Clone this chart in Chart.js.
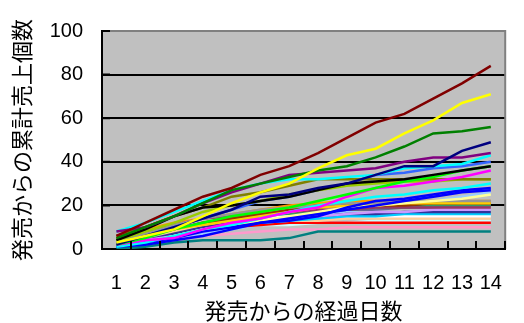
<!DOCTYPE html>
<html>
<head>
<meta charset="utf-8">
<script src="https://cdn.jsdelivr.net/npm/chart.js@4/dist/chart.umd.min.js"></script>
<style>
  html, body { margin: 0; padding: 0; background: #ffffff; }
  #box { width: 524px; height: 323px; }
</style>
</head>
<body>
<div id="box"><canvas id="chart" width="524" height="323"></canvas></div>
<script>
// Days since release
const days = ['1','2','3','4','5','6','7','8','9','10','11','12','13','14'];
const yTicks = [0, 20, 40, 60, 80, 100];

// Cumulative units sold per product, day 1..14
const p01 = [6, 12, 18, 24, 28, 34, 38, 44, 51, 58, 62, 69, 76, 84];
const p02 = [3, 6, 9, 15, 21, 26, 30, 37, 43, 46, 53, 59, 67, 71];
const p03 = [5, 10, 15, 21, 27, 30, 33, 36, 38, 42, 47, 53, 54, 56];
const p04 = [2, 6, 10, 14, 18, 24, 25, 28, 30, 34, 38, 38, 45, 49];
const p05 = [8, 10, 15, 21, 26, 30, 34, 35, 36, 37, 40, 42, 42, 44];
const p06 = [8, 12, 17, 22, 27, 30, 32, 32, 33, 34, 37, 38, 39, 43];
const p07 = [4, 9, 15, 19, 20, 22, 24, 27, 30, 31, 32, 34, 36, 38];
const p08 = [2, 5, 9, 12, 15, 17, 19, 22, 25, 28, 31, 33, 36, 38];
const p09 = [2, 4, 5, 9, 12, 14, 17, 19, 24, 28, 29, 31, 33, 36];
const p10 = [6, 10, 15, 19, 24, 26, 29, 32, 32, 32, 32, 32, 32, 32];
const p11 = [4, 8, 12, 17, 20, 22, 25, 27, 29, 30, 31, 31, 32, 32];
const p12 = [1, 3, 6, 9, 11, 14, 17, 20, 22, 24, 25, 27, 28, 30];
const p13 = [1, 2, 4, 6, 9, 12, 13, 15, 19, 22, 23, 25, 27, 28];
const p14 = [3, 6, 10, 14, 18, 22, 24, 27, 30, 34, 35, 37, 38, 40];
const p15 = [1, 3, 5, 8, 10, 12, 14, 16, 18, 20, 22, 24, 26, 27];
const p16 = [1, 3, 6, 9, 11, 13, 15, 17, 19, 20, 21, 22, 23, 25];
const p17 = [4, 7, 11, 14, 16, 18, 19, 20, 21, 21, 22, 22, 22, 22];
const p18 = [3, 6, 9, 11, 13, 15, 17, 19, 20, 20, 21, 21, 21, 21];
const p19 = [3, 6, 9, 12, 14, 16, 18, 19, 20, 20, 20, 21, 21, 21];
const p20 = [0, 1, 3, 4, 4, 4, 5, 8, 8, 8, 8, 8, 8, 8];
const p21 = [5, 8, 11, 14, 15, 16, 17, 18, 18, 19, 19, 19, 19, 19];
const p22 = [2, 4, 6, 9, 11, 13, 14, 15, 16, 17, 17, 18, 18, 18];
const p23 = [2, 4, 7, 10, 12, 13, 14, 15, 16, 16, 17, 17, 17, 17];
const p24 = [1, 3, 6, 9, 11, 12, 13, 14, 15, 15, 16, 16, 16, 16];
const p25 = [4, 7, 9, 11, 12, 14, 15, 15, 15, 15, 15, 15, 15, 15];
const p26 = [5, 9, 12, 14, 16, 18, 20, 21, 22, 22, 22, 22, 22, 22];
const p27 = [2, 5, 8, 10, 11, 12, 13, 13, 14, 14, 14, 14, 14, 14];
const p28 = [4, 6, 8, 9, 10, 11, 12, 12, 12, 12, 12, 12, 12, 12];
const p29 = [1, 2, 4, 6, 7, 8, 9, 9, 10, 10, 10, 10, 10, 10];
const p30 = [3, 5, 7, 9, 10, 11, 11, 12, 12, 13, 13, 13, 13, 13];
const p31 = [2, 5, 8, 11, 13, 15, 16, 17, 18, 19, 19, 20, 20, 20];
const p32 = [3, 6, 9, 12, 14, 15, 16, 17, 18, 18, 19, 19, 20, 20];
const p33 = [1, 3, 5, 7, 9, 11, 13, 15, 17, 19, 20, 22, 24, 26];

const series = [p01, p02, p03, p04, p05, p06, p07, p08, p09, p10, p11,
                p12, p13, p14, p15, p16, p17, p18, p19, p20, p21, p22,
                p23, p24, p25, p26, p27, p28, p29, p30, p31, p32, p33];

// Line colours, one per product
const colors = ['#800000', '#FFFF00', '#008000', '#000080', '#800080', '#00FFFF',
                '#000000', '#00FF00', '#FF00FF', '#808000', '#99CC00', '#00FFFF',
                '#0000FF', '#3366FF', '#0000FF', '#FFFF99', '#969696', '#FFCC00',
                '#993300', '#008080', '#993366', '#CC99FF', '#333399', '#00CCFF',
                '#FFFFFF', '#FF9900', '#FFCC99', '#FF0000', '#FF99CC', '#CCFFFF',
                '#339966', '#666699', '#99CCFF'];

const FONT = "'Liberation Sans', Arial, 'Noto Sans CJK JP', sans-serif";

// Grey plot area, grey top/right frame and inward tick marks
const plotFrame = {
  id: 'plotFrame',
  beforeDraw(chart) {
    const a = chart.chartArea, c = chart.ctx;
    c.save();
    c.fillStyle = '#C0C0C0';
    c.fillRect(a.left, a.top, a.right - a.left, a.bottom - a.top);
    c.restore();
  },
  afterDraw(chart) {
    const a = chart.chartArea, c = chart.ctx;
    const xs = chart.scales.x, ys = chart.scales.y;
    c.save();
    c.strokeStyle = '#808080';
    c.lineWidth = 2;
    c.beginPath();
    c.moveTo(a.left, a.top);
    c.lineTo(a.right, a.top);
    c.lineTo(a.right, a.bottom);
    c.stroke();
    c.strokeStyle = '#000000';
    c.beginPath();
    const n = xs.ticks.length;
    for (let i = 0; i < n; i++) {
      const px = (i < n - 1)
        ? (xs.getPixelForTick(i) + xs.getPixelForTick(i + 1)) / 2
        : a.right;
      c.moveTo(Math.round(px), a.bottom);
      c.lineTo(Math.round(px), a.bottom - 8);
    }
    ys.ticks.forEach((t, i) => {
      const py = ys.getPixelForTick(i);
      c.moveTo(a.left, py);
      c.lineTo(a.left + 8, py);
    });
    c.stroke();
    c.restore();
  }
};

new Chart(document.getElementById('chart'), {
  type: 'line',
  data: {
    labels: days,
    datasets: series.map((vals, i) => ({
      label: '商品' + (i + 1),
      data: vals,
      borderColor: colors[i],
      backgroundColor: colors[i],
      borderWidth: 2.5,
      pointRadius: 0,
      tension: 0,
      fill: false
    }))
  },
  options: {
    responsive: false,
    devicePixelRatio: 1,
    animation: false,
    layout: { padding: { top: 28, right: 2, left: 0, bottom: 0 } },
    plugins: { legend: { display: false }, tooltip: { enabled: false } },
    scales: {
      x: {
        type: 'category',
        offset: true,
        grid: { display: true, drawOnChartArea: false, drawTicks: false, offset: true },
        border: { display: true, color: '#000000', width: 2 },
        ticks: { color: '#000000', font: { family: FONT, size: 20 }, padding: 22,
                 maxRotation: 0, autoSkip: false },
        title: { display: true, text: '発売からの経過日数', color: '#000000',
                 font: { family: FONT, size: 22 }, padding: { top: 0, bottom: -3 } },
        afterFit(scale) { scale.height = 74; }
      },
      y: {
        min: 0,
        max: 100,
        afterBuildTicks(scale) { scale.ticks = yTicks.map(v => ({ value: v })); },
        grid: {
          drawTicks: false,
          lineWidth: 2,
          color: ctx => (ctx.tick && ctx.tick.value === 100) ? '#808080' : '#000000'
        },
        border: { display: true, color: '#000000', width: 2 },
        ticks: { color: '#000000', font: { family: FONT, size: 20 }, padding: 19 },
        title: { display: true, text: '発売からの累計売上個数', color: '#000000',
                 font: { family: FONT, size: 22 }, padding: { top: 11, bottom: 0 } },
        afterFit(scale) { scale.width = 102; }
      }
    }
  },
  plugins: [plotFrame]
});
</script>
</body>
</html>
